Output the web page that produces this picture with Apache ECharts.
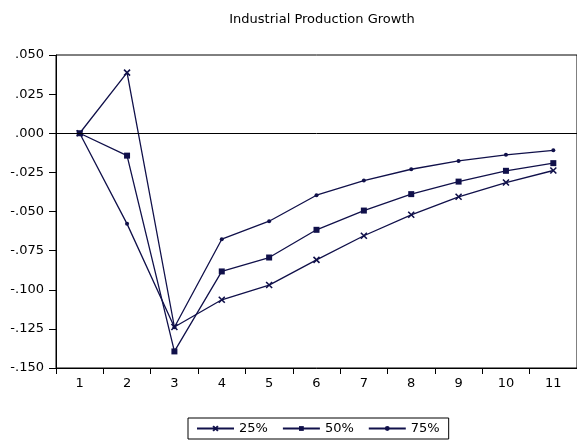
<!DOCTYPE html>
<html><head><meta charset="utf-8">
<script src="https://cdn.jsdelivr.net/npm/echarts@6/dist/echarts.min.js"></script>
<style>html,body{margin:0;padding:0;background:#fff}#c{width:577px;height:448px}</style>
</head><body><div id="c"></div>
<script>
var categories = ['1','2','3','4','5','6','7','8','9','10','11'];
var s25 = [0, 0.0387, -0.1238, -0.1064, -0.0970, -0.0809, -0.0655, -0.0521, -0.0406, -0.0315, -0.0238];
var s50 = [0, -0.0143, -0.1394, -0.0883, -0.0794, -0.0617, -0.0494, -0.0389, -0.0309, -0.0240, -0.0191];
var s75 = [0, -0.0579, -0.1240, -0.0677, -0.0562, -0.0396, -0.0302, -0.0230, -0.0177, -0.0138, -0.0109];
var seriesNames = ['25%', '50%', '75%'];
var title = 'Industrial Production Growth';

var navy = '#10104a';
var font = 'DejaVu Sans, sans-serif';
function fmt(v){
  var s = Math.abs(v).toFixed(3).replace(/^0/, '');
  return (v < -1e-9 ? '-' : '') + s;
}
var chart = echarts.init(document.getElementById('c'), null, {renderer:'canvas'});
function mk(name, data, symbol, size){
  return {
    name: name, type: 'line', data: data, symbol: symbol, symbolSize: size,
    showAllSymbol: true, animation: false,
    lineStyle: {color: navy, width: 1.3},
    itemStyle: {color: navy, borderColor: navy, borderWidth: symbol.indexOf('path') === 0 ? 1.6 : 0}
  };
}
var series = [
  mk(seriesNames[0], s25, 'path://M0,0L10,10M10,0L0,10', 6),
  mk(seriesNames[1], s50, 'rect', 6),
  mk(seriesNames[2], s75, 'circle', 4)
];
series[0].markLine = {
  silent: true, symbol: 'none', animation: false,
  label: {show: false},
  lineStyle: {color: '#000', type: 'solid', width: 1},
  data: [{yAxis: 0}]
};
chart.setOption({
  animation: false,
  backgroundColor: '#fff',
  title: {text: title, left: 317, textAlign: 'center', top: 8,
    textStyle: {fontFamily: font, fontSize: 13, fontWeight: 'normal', color: '#000'}},
  grid: {left: 56, right: 0, top: 55, bottom: 80, show: true, borderColor: '#000', borderWidth: 1},
  legend: {
    data: seriesNames, top: 418, left: 188,
    borderColor: '#000', borderWidth: 1, padding: [4, 9, 4, 8],
    itemWidth: 37, itemHeight: 6, itemGap: 14,
    textStyle: {fontFamily: font, fontSize: 13, color: '#000'}
  },
  xAxis: {
    type: 'category', data: categories, boundaryGap: true,
    axisLine: {onZero: false, lineStyle: {color: '#000', width: 1}},
    axisTick: {show: true, alignWithLabel: false, length: 6, lineStyle: {color: '#000'}},
    axisLabel: {fontFamily: font, fontSize: 13, color: '#000', margin: 9},
    splitLine: {show: false}
  },
  yAxis: {
    type: 'value', min: -0.15, max: 0.05, interval: 0.025,
    axisLine: {show: true, lineStyle: {color: '#000', width: 1}},
    axisTick: {show: true, length: 7, lineStyle: {color: '#000'}},
    axisLabel: {fontFamily: font, fontSize: 13, color: '#000', margin: 12, formatter: fmt},
    splitLine: {show: false}
  },
  series: series
});
</script></body></html>
